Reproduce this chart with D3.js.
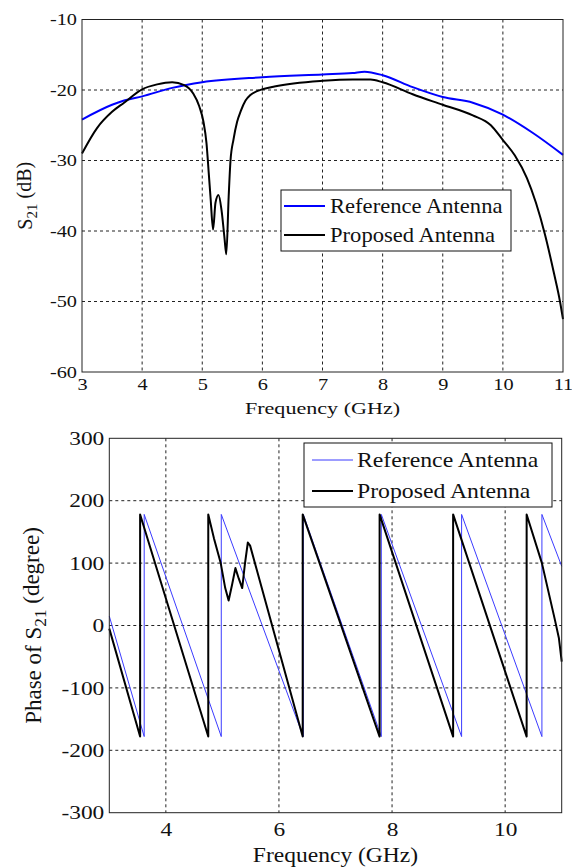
<!DOCTYPE html>
<html>
<head>
<meta charset="utf-8">
<script src="https://cdn.jsdelivr.net/npm/d3@7"></script>
<style>
  body { margin: 0; background: #fff; }
  svg { display: block; font-family: "Liberation Serif", "Times New Roman", serif; }
  .grid line { stroke: #222; stroke-width: 1; stroke-dasharray: 3,3; }
</style>
</head>
<body>
<svg width="572" height="868"></svg>
<script>
// --- S21 magnitude (dB) ---
const magFreqRef = [3, 3.5, 3.7, 4, 4.5, 5, 6, 7, 7.5, 7.7, 8, 8.5, 9, 9.5, 10, 10.5, 11];
const magRef = [-24.2, -22.1, -21.5, -20.9, -19.7, -18.9, -18.2, -17.8, -17.6, -17.4, -17.9, -19.6, -21.0, -21.8, -23.5, -26.1, -29.2];

const magFreqProp = [3, 3.25, 3.5, 3.7, 4, 4.25, 4.5, 4.7, 4.85, 4.95, 5.02, 5.07, 5.11, 5.14, 5.18,
  5.22, 5.27, 5.32, 5.37, 5.4, 5.44, 5.47, 5.52, 5.58, 5.64, 5.72, 5.8, 5.9, 6, 6.2, 7, 7.5, 7.8, 8,
  8.5, 9, 9.5, 9.8, 10, 10.2, 10.4, 10.55, 10.7, 10.85, 10.95, 11];
const magProp = [-29.0, -25.4, -23.1, -21.8, -19.9, -19.2, -18.9, -19.3, -20.5, -22.3, -24.5, -27.5, -32, -35.5, -39.8,
  -36, -34.9, -37, -41, -43.3, -35, -30, -27, -24.5, -23, -21.5, -20.7, -20.2, -19.9, -19.5, -18.7, -18.5, -18.5, -18.9,
  -20.6, -22.1, -23.6, -25, -27.1, -29.3, -32.5, -36, -40.5, -46, -50, -52.5];

// --- S21 phase (degree) ---
const phFreqRef = [3, 3.617, 3.617, 4.98, 4.98, 6.43, 6.43, 7.81, 7.81, 9.23, 9.23, 10.65, 10.65, 11];
const phRef = [15, -178, 178, -178, 178, -178, 178, -178, 178, -178, 178, -178, 178, 95];

const phFreqProp = [3, 3.545, 3.545, 4.75, 4.75, 4.85, 4.97, 5.05, 5.11, 5.17, 5.23, 5.29, 5.35, 5.4, 5.45, 5.49,
  6.42, 6.42, 7.78, 7.78, 9.08, 9.08, 10.38, 10.38, 10.65, 10.88, 10.95, 11];
const phProp = [-5, -178, 178, -178, 178, 140, 100, 60, 40, 65, 92, 75, 60, 100, 133, 128,
  -178, 178, -178, 178, -178, 178, -178, 178, 100, 9, -20, -58];

const magTicksX = [3, 4, 5, 6, 7, 8, 9, 10, 11];
const magTicksY = [-60, -50, -40, -30, -20, -10];
const phTicksX = [4, 6, 8, 10];
const phTicksY = [-300, -200, -100, 0, 100, 200, 300];

const legendNames = ['Reference Antenna', 'Proposed Antenna'];

const svg = d3.select('svg');

function pairs(xs, ys) {
  return xs.map((x, i) => [x, ys[i]]);
}

function drawPanel(opt) {
  const x = d3.scaleLinear().domain([3, 11]).range([opt.left, opt.right]);
  const y = d3.scaleLinear().domain(opt.yDomain).range([opt.bottom, opt.top]);
  const g = svg.append('g');

  // grid
  const grid = g.append('g').attr('class', 'grid');
  grid.selectAll('.gx')
    .data(opt.ticksX.filter(d => d > 3 && d < 11))
    .enter().append('line')
    .attr('x1', d => x(d)).attr('x2', d => x(d))
    .attr('y1', opt.top).attr('y2', opt.bottom);
  grid.selectAll('.gy')
    .data(opt.ticksY.filter(d => d > opt.yDomain[0] && d < opt.yDomain[1]))
    .enter().append('line')
    .attr('x1', opt.left).attr('x2', opt.right)
    .attr('y1', d => y(d)).attr('y2', d => y(d));

  // axes
  const xAxis = g.append('g')
    .attr('transform', `translate(0,${opt.bottom})`)
    .call(d3.axisBottom(x).tickValues(opt.ticksX).tickSize(0).tickPadding(opt.xPad));
  const yAxis = g.append('g')
    .attr('transform', `translate(${opt.left},0)`)
    .call(d3.axisLeft(y).tickValues(opt.ticksY).tickSize(0).tickPadding(opt.yPad)
      .tickFormat(d => (d < 0 ? '-' : '') + Math.abs(d)));
  [xAxis, yAxis].forEach(a => {
    a.select('.domain').remove();
    a.selectAll('text')
      .attr('fill', '#111')
      .style('font-size', opt.tickFont + 'px')
      .style('font-family', '"Liberation Serif", serif');
  });
  // stretch tick labels sideways like the original bitmap
  xAxis.selectAll('.tick text').attr('transform', `scale(${opt.tickStretch},1)`);
  yAxis.selectAll('.tick text').each(function() {
    const t = d3.select(this);
    t.attr('x', +t.attr('x') / opt.tickStretch).attr('transform', `scale(${opt.tickStretch},1)`);
  });

  // series
  const line = d3.line()
    .x(d => x(d[0]))
    .y(d => y(d[1]))
    .curve(opt.curve);
  opt.series.forEach(s => {
    g.append('path')
      .datum(s.data)
      .attr('fill', 'none')
      .attr('stroke', s.color)
      .attr('stroke-width', s.width)
      .attr('stroke-linejoin', 'round')
      .attr('d', line);
  });

  // frame
  g.append('rect')
    .attr('x', opt.left).attr('y', opt.top)
    .attr('width', opt.right - opt.left).attr('height', opt.bottom - opt.top)
    .attr('fill', 'none').attr('stroke', '#222').attr('stroke-width', 1);

  // x label
  g.append('text')
    .attr('transform', `translate(${(opt.left + opt.right) / 2},${opt.xLabelY}) scale(${opt.labelStretch},1)`)
    .attr('text-anchor', 'middle')
    .attr('fill', '#111')
    .style('font-size', opt.labelFont + 'px')
    .text('Frequency (GHz)');

  // y label with subscript
  const yl = g.append('text')
    .attr('transform', `translate(${opt.yLabelX},${(opt.top + opt.bottom) / 2}) rotate(-90)`)
    .attr('text-anchor', 'middle')
    .attr('fill', '#111')
    .style('font-size', opt.yLabelFont + 'px');
  yl.append('tspan').text(opt.yLabel[0]);
  yl.append('tspan').attr('dy', '0.3em').style('font-size', '0.75em').text('21');
  yl.append('tspan').attr('dy', '-0.3em').text(opt.yLabel[1]);

  // legend
  const L = opt.legend;
  const lg = g.append('g');
  lg.append('rect')
    .attr('x', L.x).attr('y', L.y).attr('width', L.w).attr('height', L.h)
    .attr('fill', '#fff').attr('stroke', '#111').attr('stroke-width', 1);
  opt.series.forEach((s, i) => {
    const cy = L.y + L.row0 + i * L.rowGap;
    lg.append('line')
      .attr('x1', L.x + L.lx0).attr('x2', L.x + L.lx1)
      .attr('y1', cy).attr('y2', cy)
      .attr('stroke', s.color).attr('stroke-width', s.width);
    lg.append('text')
      .attr('transform', `translate(${L.x + L.tx},${cy + L.font * 0.33}) scale(${L.stretch},1)`)
      .attr('fill', '#111')
      .style('font-size', L.font + 'px')
      .text(legendNames[i]);
  });
}

drawPanel({
  left: 82, right: 563, top: 19.5, bottom: 372,
  yDomain: [-60, -10],
  ticksX: magTicksX, ticksY: magTicksY,
  xPad: 6, yPad: 5,
  tickFont: 16.5, tickStretch: 1.23,
  labelFont: 17, labelStretch: 1.3, xLabelY: 414,
  yLabel: ['S', ' (dB)'], yLabelX: 32, yLabelFont: 20,
  curve: d3.curveMonotoneX,
  series: [
    { data: pairs(magFreqRef, magRef), color: '#0000ff', width: 2 },
    { data: pairs(magFreqProp, magProp), color: '#000', width: 2 }
  ],
  legend: { x: 281, y: 190, w: 230, h: 61, row0: 16, rowGap: 29, lx0: 3, lx1: 44, tx: 49, font: 20, stretch: 1.13 }
});

drawPanel({
  left: 109.3, right: 561.7, top: 438.3, bottom: 812.7,
  yDomain: [-300, 300],
  ticksX: phTicksX, ticksY: phTicksY,
  xPad: 9, yPad: 5,
  tickFont: 19.5, tickStretch: 1.2,
  labelFont: 22, labelStretch: 1.07, xLabelY: 862,
  yLabel: ['Phase of S', ' (degree)'], yLabelX: 41, yLabelFont: 23,
  curve: d3.curveLinear,
  series: [
    { data: pairs(phFreqRef, phRef), color: '#3b3bff', width: 1 },
    { data: pairs(phFreqProp, phProp), color: '#000', width: 2 }
  ],
  legend: { x: 304, y: 443, w: 248, h: 64, row0: 17, rowGap: 31, lx0: 8, lx1: 49, tx: 53, font: 22, stretch: 1.08 }
});
</script>
</body>
</html>
